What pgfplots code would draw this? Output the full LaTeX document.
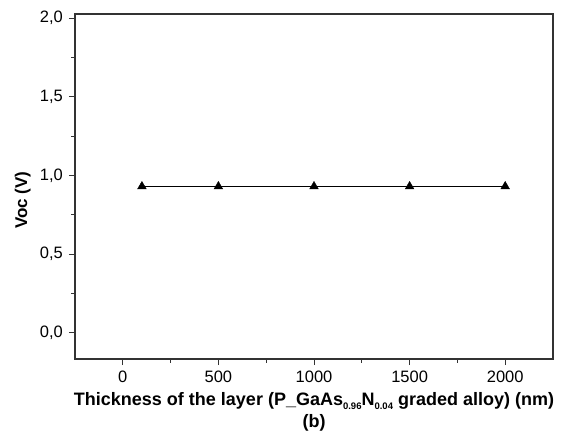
\documentclass[border=0pt]{standalone}
\usepackage{pgfplots}
\pgfplotsset{compat=1.18}
\usepackage{fontspec}
\setmainfont{Liberation Sans}
\newcommand{\sub}[1]{\raisebox{-4.5pt}{\fontsize{9.5}{10}\selectfont\bfseries #1}}
\begin{document}
\begin{tikzpicture}
\begin{axis}[
  name=ax,
  scale only axis,
  width=478pt, height=345pt,
  xmin=-250, xmax=2250,
  ymin=-0.167, ymax=2.026,
  xtick={0,500,1000,1500,2000},
  ytick={0,0.5,1,1.5,2},
  minor x tick num=1,
  minor y tick num=1,
  tick align=outside,
  xtick pos=bottom, ytick pos=left,
  major tick length=6pt, minor tick length=3.5pt,
  axis line style={line width=1.1pt, black!80},
  every tick/.style={black!80, line width=1pt},
  /pgf/number format/assume math mode=true,
  yticklabel style={anchor=east, inner sep=0pt, /pgf/number format/fixed, /pgf/number format/fixed zerofill, /pgf/number format/precision=1, /pgf/number format/use comma},
  xticklabel style={anchor=north, inner sep=0pt, /pgf/number format/1000 sep={}},
  xticklabel shift=6pt, yticklabel shift=6pt,
  tick label style={font=\fontsize{16.5}{18}\selectfont},
  xlabel={Thickness of the layer (P\_GaAs\sub{0.96}N\sub{0.04} graded alloy) (nm)},
  xlabel style={at={(rel axis cs:0.5,0)}, anchor=base, yshift=-46pt, inner sep=0pt, font=\fontsize{18}{20}\selectfont\bfseries},
]
\addplot[black, line width=0.7pt, mark=triangle*, mark size=5pt, mark options={solid, fill=black, line width=0.4pt}]
  coordinates {(100,0.93) (500,0.93) (1000,0.93) (1500,0.93) (2000,0.93)};
\end{axis}
\node[anchor=base, inner sep=0pt, font=\fontsize{18}{20}\selectfont\bfseries] at ([yshift=-68pt]ax.south) {(b)};
\node[rotate=90, anchor=base, inner sep=0pt, font=\fontsize{17}{20}\selectfont\bfseries] at ([xshift=-48pt, yshift=159pt]ax.south west) {Voc (V)};
\path[use as bounding box] ([xshift=-75pt,yshift=-75pt]ax.south west) rectangle ([xshift=15pt,yshift=14pt]ax.north east);
\end{tikzpicture}
\end{document}
